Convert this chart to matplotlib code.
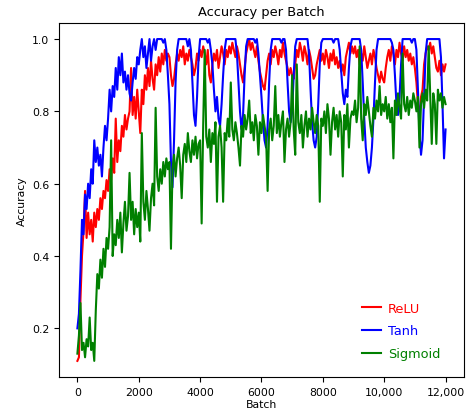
import numpy as np
import matplotlib
matplotlib.use('Agg')
import matplotlib.pyplot as plt
from matplotlib.ticker import FuncFormatter

# batch index of each logged point (one every 50 batches)
batches = np.arange(0, 12001, 50)

relu_acc = [
    0.11, 0.12, 0.28, 0.40, 0.47, 0.58, 0.45, 0.52, 0.46, 0.50, 0.44, 0.52, 0.48, 0.53, 0.50, 0.56, 0.53, 0.58, 0.56, 0.61,
    0.58, 0.64, 0.61, 0.67, 0.63, 0.78, 0.66, 0.72, 0.69, 0.76, 0.73, 0.79, 0.75, 0.78, 0.80, 0.92, 0.79, 0.84, 0.78, 0.86,
    0.80, 0.74, 0.86, 0.82, 0.90, 0.86, 0.92, 0.87, 0.94, 0.89, 0.86, 0.93, 0.90, 0.95, 0.91, 0.96, 0.93, 0.97, 0.94, 0.96,
    0.95, 0.90, 0.87, 0.89, 0.93, 0.96, 0.94, 0.97, 0.95, 0.98, 0.93, 0.96, 0.94, 0.97, 0.95, 0.93, 0.90, 0.92, 0.96, 0.94,
    0.97, 0.95, 0.98, 0.96, 0.93, 0.97, 0.90, 0.88, 0.93, 0.96, 0.94, 0.97, 0.92, 0.95, 0.98, 0.96, 0.93, 0.97, 0.95, 0.98,
    0.96, 0.99, 0.97, 0.95, 0.98, 0.96, 0.93, 0.90, 0.88, 0.92, 0.96, 0.98, 1.00, 0.97, 0.99, 0.97, 0.95, 0.98, 0.94, 0.91,
    0.89, 0.87, 0.86, 0.90, 0.94, 0.96, 0.93, 0.97, 0.95, 0.98, 0.96, 0.93, 0.97, 0.95, 0.99, 0.96, 0.94, 0.92, 0.90, 0.92,
    0.90, 0.89, 0.93, 0.97, 0.95, 0.99, 0.97, 0.94, 0.98, 0.96, 0.93, 0.97, 0.95, 0.92, 0.89, 0.90, 0.93, 0.95, 0.97, 0.94,
    0.96, 0.93, 0.97, 0.95, 0.92, 0.96, 0.94, 0.97, 0.93, 0.95, 0.92, 0.94, 0.91, 0.93, 0.90, 0.95, 0.97, 0.99, 0.96, 0.98,
    0.96, 0.98, 0.95, 0.97, 0.93, 0.96, 0.94, 0.98, 0.95, 0.92, 0.94, 0.96, 0.93, 0.97, 0.95, 0.92, 0.90, 0.88, 0.91, 0.89,
    0.88, 0.92, 0.95, 0.97, 0.94, 0.98, 0.96, 0.93, 0.97, 0.95, 0.99, 0.96, 0.94, 0.98, 0.95, 0.97, 0.94, 0.96, 0.93, 0.95,
    0.92, 0.88, 0.82, 0.78, 0.84, 0.86, 0.93, 0.96, 0.98, 0.97, 0.99, 0.96, 0.98, 0.95, 0.92, 0.91, 0.94, 0.90, 0.93, 0.91,
    0.93,
]

tanh_acc = [
    0.20, 0.24, 0.36, 0.50, 0.46, 0.57, 0.53, 0.60, 0.56, 0.64, 0.60, 0.72, 0.66, 0.70, 0.65, 0.68, 0.62, 0.70, 0.76, 0.72,
    0.78, 0.86, 0.80, 0.87, 0.84, 0.92, 0.86, 0.95, 0.90, 0.96, 0.88, 0.91, 0.86, 0.90, 0.85, 0.83, 0.88, 0.92, 0.89, 0.95,
    0.93, 0.97, 1.00, 0.95, 0.98, 0.92, 0.96, 1.00, 0.94, 0.98, 1.00, 0.97, 1.00, 1.00, 1.00, 1.00, 0.99, 1.00, 0.97, 0.90,
    0.82, 0.66, 0.59, 0.72, 0.88, 0.97, 1.00, 1.00, 1.00, 1.00, 1.00, 1.00, 0.98, 1.00, 0.97, 0.88, 0.79, 0.76, 0.84, 0.95,
    1.00, 1.00, 1.00, 1.00, 1.00, 0.99, 1.00, 0.97, 0.93, 0.86, 0.80, 0.84, 0.78, 0.76, 0.82, 0.90, 0.97, 1.00, 1.00, 1.00,
    1.00, 1.00, 1.00, 1.00, 0.96, 0.88, 0.80, 0.75, 0.79, 0.90, 0.98, 1.00, 1.00, 1.00, 1.00, 1.00, 0.99, 1.00, 0.96, 0.90,
    0.84, 0.77, 0.72, 0.70, 0.76, 0.88, 0.97, 1.00, 1.00, 1.00, 1.00, 1.00, 1.00, 0.99, 1.00, 1.00, 0.97, 0.88, 0.80, 0.77,
    0.80, 0.90, 0.98, 1.00, 1.00, 1.00, 1.00, 1.00, 1.00, 1.00, 1.00, 0.96, 0.86, 0.77, 0.72, 0.70, 0.73, 0.82, 0.93, 0.99,
    1.00, 1.00, 1.00, 1.00, 1.00, 1.00, 1.00, 0.99, 1.00, 1.00, 1.00, 0.97, 0.91, 0.85, 0.82, 0.86, 0.84, 0.92, 0.98, 1.00,
    1.00, 1.00, 1.00, 1.00, 1.00, 0.97, 0.88, 0.78, 0.70, 0.66, 0.63, 0.65, 0.70, 0.78, 0.88, 0.97, 1.00, 1.00, 1.00, 1.00,
    1.00, 1.00, 1.00, 1.00, 1.00, 0.99, 0.97, 0.90, 0.82, 0.79, 0.84, 0.93, 1.00, 1.00, 1.00, 1.00, 1.00, 1.00, 0.99, 1.00,
    1.00, 0.97, 0.86, 0.74, 0.68, 0.72, 0.84, 0.96, 1.00, 1.00, 1.00, 1.00, 1.00, 1.00, 1.00, 1.00, 1.00, 0.95, 0.82, 0.67,
    0.75,
]

sigmoid_acc = [
    0.13, 0.18, 0.27, 0.14, 0.16, 0.12, 0.17, 0.15, 0.23, 0.14, 0.16, 0.11, 0.25, 0.35, 0.31, 0.39, 0.34, 0.42, 0.37, 0.45,
    0.42, 0.48, 0.72, 0.40, 0.46, 0.43, 0.50, 0.45, 0.52, 0.41, 0.49, 0.55, 0.47, 0.51, 0.63, 0.50, 0.55, 0.46, 0.53, 0.48,
    0.52, 0.44, 0.74, 0.55, 0.50, 0.58, 0.53, 0.47, 0.56, 0.60, 0.54, 0.81, 0.62, 0.58, 0.64, 0.60, 0.66, 0.62, 0.67, 0.64,
    0.66, 0.42, 0.64, 0.68, 0.62, 0.67, 0.70, 0.65, 0.56, 0.68, 0.71, 0.66, 0.74, 0.69, 0.66, 0.72, 0.68, 0.73, 0.67, 0.71,
    0.72, 0.49, 0.76, 0.97, 0.73, 0.70, 0.75, 0.66, 0.74, 0.71, 0.77, 0.55, 0.73, 0.76, 0.70, 0.55, 0.74, 0.72, 0.78, 0.73,
    0.88, 0.75, 0.72, 0.77, 0.74, 0.70, 0.65, 0.76, 0.73, 0.79, 0.75, 0.78, 0.83, 0.74, 0.77, 0.72, 0.79, 0.76, 0.68, 0.77,
    0.74, 0.79, 0.76, 0.73, 0.58, 0.75, 0.78, 0.72, 0.76, 0.87, 0.74, 0.79, 0.73, 0.77, 0.80, 0.66, 0.75, 0.78, 0.73, 0.77,
    0.90, 0.75, 0.68, 0.93, 0.77, 0.74, 0.79, 0.70, 0.76, 0.80, 0.73, 0.78, 0.75, 0.81, 0.77, 0.74, 0.79, 0.76, 0.55, 0.78,
    0.76, 0.80, 0.74, 0.82, 0.78, 0.68, 0.77, 0.81, 0.75, 0.79, 0.73, 0.80, 0.77, 0.62, 0.79, 0.75, 0.82, 0.70, 0.78, 0.80,
    0.79, 0.83, 0.77, 0.81, 0.98, 0.78, 0.72, 0.82, 0.79, 0.84, 0.80, 0.76, 0.73, 0.81, 0.78, 0.83, 0.80, 0.87, 0.79, 0.82,
    0.80, 0.84, 0.78, 0.82, 0.77, 0.81, 0.67, 0.83, 0.79, 0.85, 0.81, 0.78, 0.96, 0.82, 0.80, 0.84, 0.79, 0.83, 0.81, 0.85,
    0.83, 0.80, 0.84, 0.70, 0.82, 0.85, 0.81, 0.86, 0.83, 0.98, 0.84, 0.71, 0.85, 0.82, 0.71, 0.86, 0.83, 0.85, 0.81, 0.84,
    0.82,
]

fig = plt.figure(figsize=(4.67, 4.14), dpi=100)
ax = fig.add_axes([0.1263, 0.087, 0.8672, 0.8551])

lw = 1.5
ax.plot(batches, relu_acc, color='red', lw=lw, label='ReLU')
ax.plot(batches, tanh_acc, color='blue', lw=lw, label='Tanh')
ax.plot(batches, sigmoid_acc, color='green', lw=lw, label='Sigmoid')

ax.set_title('Accuracy per Batch', fontsize=9.4)
ax.set_xlabel('Batch', fontsize=7.8, labelpad=2)
ax.set_ylabel('Accuracy', fontsize=7.8)
ax.tick_params(labelsize=7.8)
ax.set_xticks([0, 2000, 4000, 6000, 8000, 10000, 12000])
ax.set_yticks([0.2, 0.4, 0.6, 0.8, 1.0])
ax.xaxis.set_major_formatter(FuncFormatter(lambda v, p: f'{v:,.0f}' if v >= 10000 else f'{v:.0f}'))

ax.legend(loc='lower right', bbox_to_anchor=(0.97, 0.015), frameon=False, fontsize=9.3,
          labelcolor='linecolor', handlelength=1.5, handletextpad=0.5, labelspacing=0.75)

fig.savefig('out.png', dpi=100)
